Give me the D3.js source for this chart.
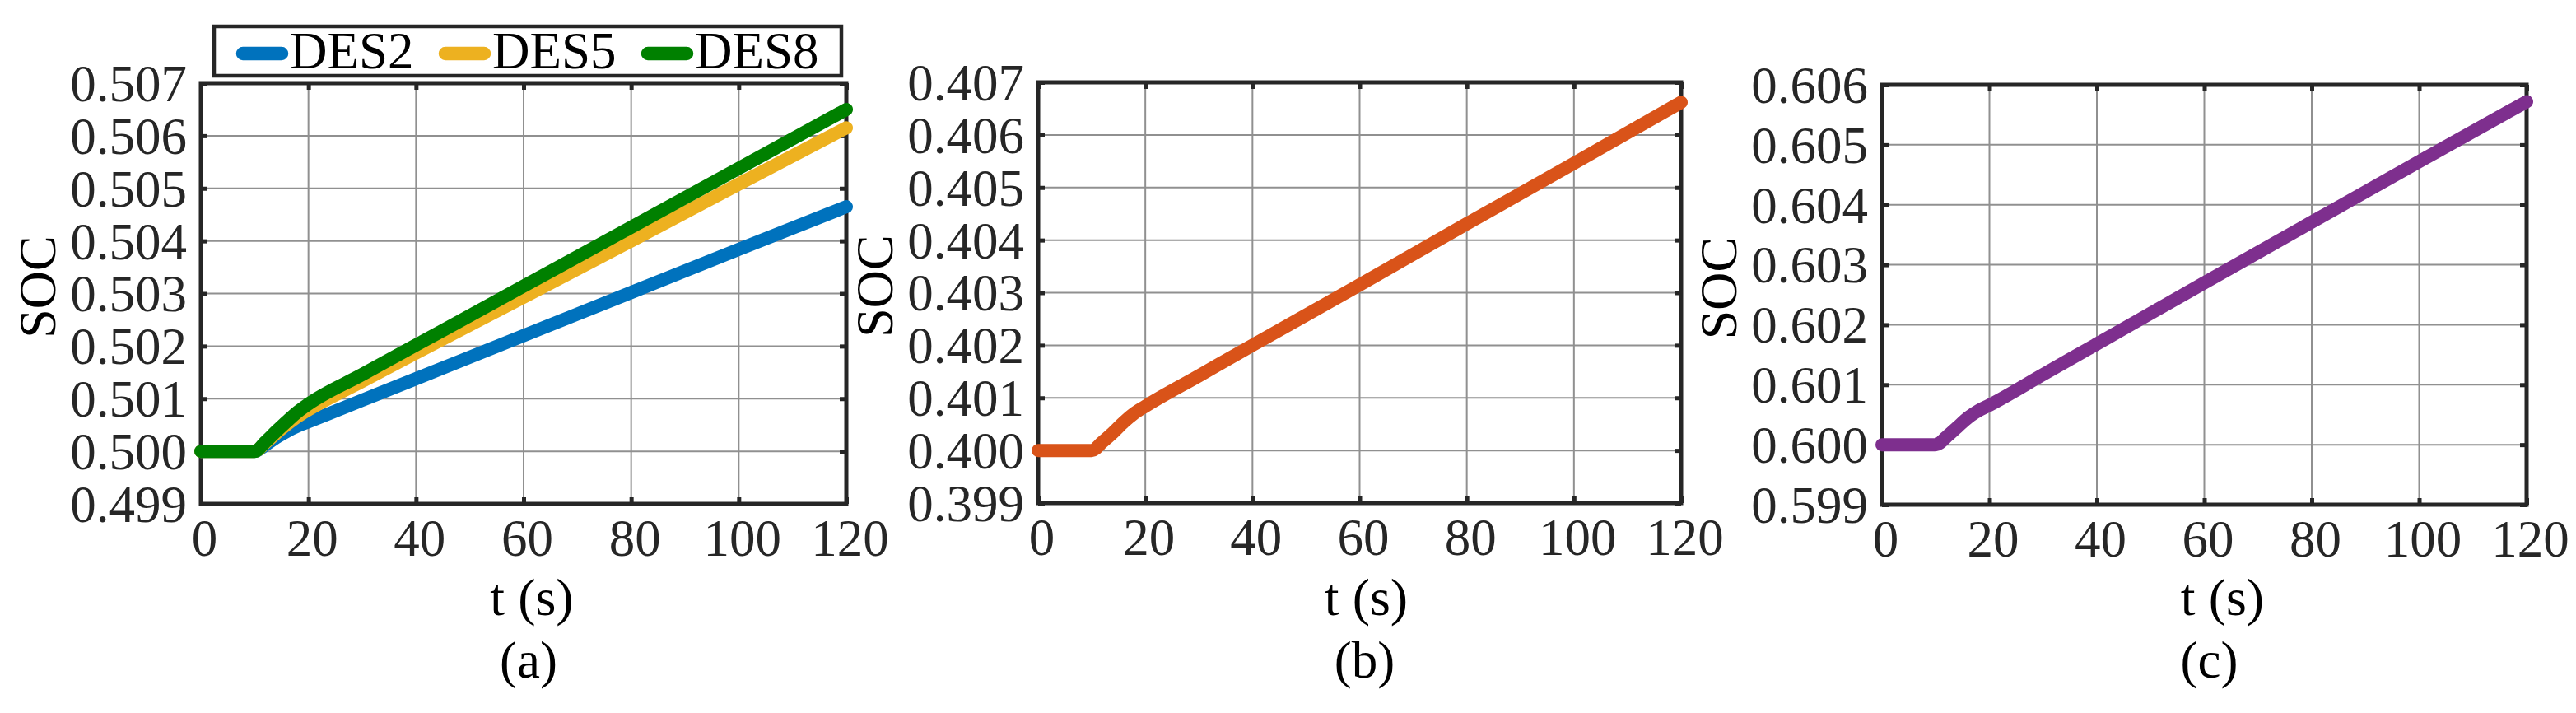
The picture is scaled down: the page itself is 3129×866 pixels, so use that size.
<!DOCTYPE html>
<html><head><meta charset="utf-8">
<script src="https://cdn.jsdelivr.net/npm/d3@7"></script>
<style>html,body{margin:0;padding:0;background:#fff;}svg{display:block;}</style>
</head><body>
<svg id="chart" width="3129" height="866"></svg>
<script>
// ---- data ----
const time = [0, 10, 12, 14, 16, 18, 20, 30, 40, 60, 80, 100, 120];
const des2 = [0.5000, 0.5000, 0.50012, 0.50026, 0.50038, 0.50048, 0.50056, 0.50097, 0.50138, 0.50220, 0.50302, 0.50384, 0.50465];
const des5 = [0.5000, 0.5000, 0.50016, 0.50034, 0.50051, 0.50066, 0.50079, 0.50133, 0.50187, 0.50293, 0.50400, 0.50508, 0.50615];
const des8 = [0.5000, 0.5000, 0.50018, 0.50038, 0.50057, 0.50075, 0.50090, 0.50146, 0.50202, 0.50314, 0.50426, 0.50538, 0.50650];
const socB = [0.4000, 0.4000, 0.40016, 0.40034, 0.40054, 0.40071, 0.40084, 0.40142, 0.40200, 0.40315, 0.40431, 0.40546, 0.40662];
const socC = [0.6000, 0.6000, 0.60013, 0.60029, 0.60045, 0.60057, 0.60066, 0.60117, 0.60168, 0.60270, 0.60371, 0.60472, 0.60572];
const xTicks = [0, 20, 40, 60, 80, 100, 120];
const yTicksA = [0.499, 0.500, 0.501, 0.502, 0.503, 0.504, 0.505, 0.506, 0.507];
const yTicksB = [0.399, 0.400, 0.401, 0.402, 0.403, 0.404, 0.405, 0.406, 0.407];
const yTicksC = [0.599, 0.600, 0.601, 0.602, 0.603, 0.604, 0.605, 0.606];
const legendNames = ["DES2", "DES5", "DES8"];
const panelLabels = ["(a)", "(b)", "(c)"];

// ---- layout ----
const FONT = "'Liberation Serif','Times New Roman',serif";
const AX = "#262626";
const panels = [
  {left: 244, right: 1028, top: 101, bottom: 612, yTicks: yTicksA, xlabDx: 10, series: [
    {vals: des2, color: "#0072BD"}, {vals: des5, color: "#EDB120"}, {vals: des8, color: "#008000"}]},
  {left: 1261, right: 2042, top: 100, bottom: 611, yTicks: yTicksB, xlabDx: 8, series: [
    {vals: socB, color: "#D95319"}]},
  {left: 2286, right: 3069, top: 103, bottom: 613, yTicks: yTicksC, xlabDx: 22, series: [
    {vals: socC, color: "#7E2F8E"}]}
];

const svg = d3.select("#chart");

panels.forEach((p, i) => {
  const x = d3.scaleLinear().domain([0, 120]).range([p.left, p.right]);
  const yt = p.yTicks;
  const y = d3.scaleLinear().domain([yt[0], yt[yt.length - 1]]).range([p.bottom, p.top]);
  const g = svg.append("g");

  // grid
  g.append("g").selectAll("line.gx").data(xTicks.slice(1, -1)).join("line")
    .attr("x1", d => x(d)).attr("x2", d => x(d)).attr("y1", p.top).attr("y2", p.bottom)
    .attr("stroke", "#909090").attr("stroke-width", 2);
  g.append("g").selectAll("line.gy").data(yt.slice(1, -1)).join("line")
    .attr("y1", d => y(d)).attr("y2", d => y(d)).attr("x1", p.left).attr("x2", p.right)
    .attr("stroke", "#909090").attr("stroke-width", 2);

  // axes via d3 axis (ticks inward on all sides)
  const fmtY = d3.format(".3f");
  const bottomAx = d3.axisBottom(x).tickValues(xTicks).tickSize(-8).tickPadding(18).tickFormat(d3.format("d"));
  const topAx = d3.axisTop(x).tickValues(xTicks).tickSize(-8).tickFormat("");
  const leftAx = d3.axisLeft(y).tickValues(yt).tickSize(-8).tickPadding(17).tickFormat(fmtY);
  const rightAx = d3.axisRight(y).tickValues(yt).tickSize(-8).tickFormat("");

  const gb = g.append("g").attr("transform", `translate(0,${p.bottom})`).call(bottomAx);
  const gt = g.append("g").attr("transform", `translate(0,${p.top})`).call(topAx);
  const gl = g.append("g").attr("transform", `translate(${p.left},0)`).call(leftAx);
  const gr = g.append("g").attr("transform", `translate(${p.right},0)`).call(rightAx);
  [gb, gt, gl, gr].forEach(a => {
    a.select(".domain").remove();
    a.selectAll(".tick line").attr("stroke", AX).attr("stroke-width", 5);
    a.selectAll("text").attr("font-family", FONT).attr("font-size", 63).attr("fill", AX);
  });
  gb.selectAll("text").attr("dy", "0.71em").attr("dx", 4);
  gl.selectAll("text").attr("dy", "0.34em");

  // box
  g.append("rect").attr("x", p.left).attr("y", p.top)
    .attr("width", p.right - p.left).attr("height", p.bottom - p.top)
    .attr("fill", "none").attr("stroke", AX).attr("stroke-width", 5);

  // lines
  const line = d3.line().x((d, k) => x(time[k])).y(d => y(d)).curve(d3.curveMonotoneX);
  p.series.forEach(s => {
    g.append("path").datum(s.vals).attr("d", line)
      .attr("fill", "none").attr("stroke", s.color).attr("stroke-width", 16)
      .attr("stroke-linecap", "round").attr("stroke-linejoin", "round");
  });

  // labels
  const cx = (p.left + p.right) / 2;
  g.append("text").attr("x", cx + p.xlabDx).attr("y", 747).attr("text-anchor", "middle")
    .attr("font-family", FONT).attr("font-size", 64).attr("fill", "#000").text("t (s)");
  g.append("text").attr("x", cx + 6).attr("y", 823).attr("text-anchor", "middle")
    .attr("font-family", FONT).attr("font-size", 63).attr("fill", "#000").text(panelLabels[i]);
  const ly = (p.top + p.bottom) / 2 - 8;
  g.append("text").attr("transform", `translate(${p.left - 177},${ly}) rotate(-90)`)
    .attr("text-anchor", "middle").attr("font-family", FONT).attr("font-size", 64)
    .attr("fill", "#000").text("SOC");
});

// legend for panel (a)
const leg = svg.append("g");
leg.append("rect").attr("x", 260).attr("y", 32).attr("width", 762).attr("height", 60)
  .attr("fill", "#fff").attr("stroke", AX).attr("stroke-width", 4.5);
const legColors = ["#0072BD", "#EDB120", "#008000"];
legendNames.forEach((n, k) => {
  const x0 = 295 + k * 246;
  leg.append("line").attr("x1", x0).attr("x2", x0 + 47).attr("y1", 65).attr("y2", 65)
    .attr("stroke", legColors[k]).attr("stroke-width", 16.5).attr("stroke-linecap", "round");
  leg.append("text").attr("x", x0 + 57).attr("y", 83).attr("font-family", FONT)
    .attr("font-size", 63).attr("fill", "#000").text(n);
});
</script>
</body></html>
